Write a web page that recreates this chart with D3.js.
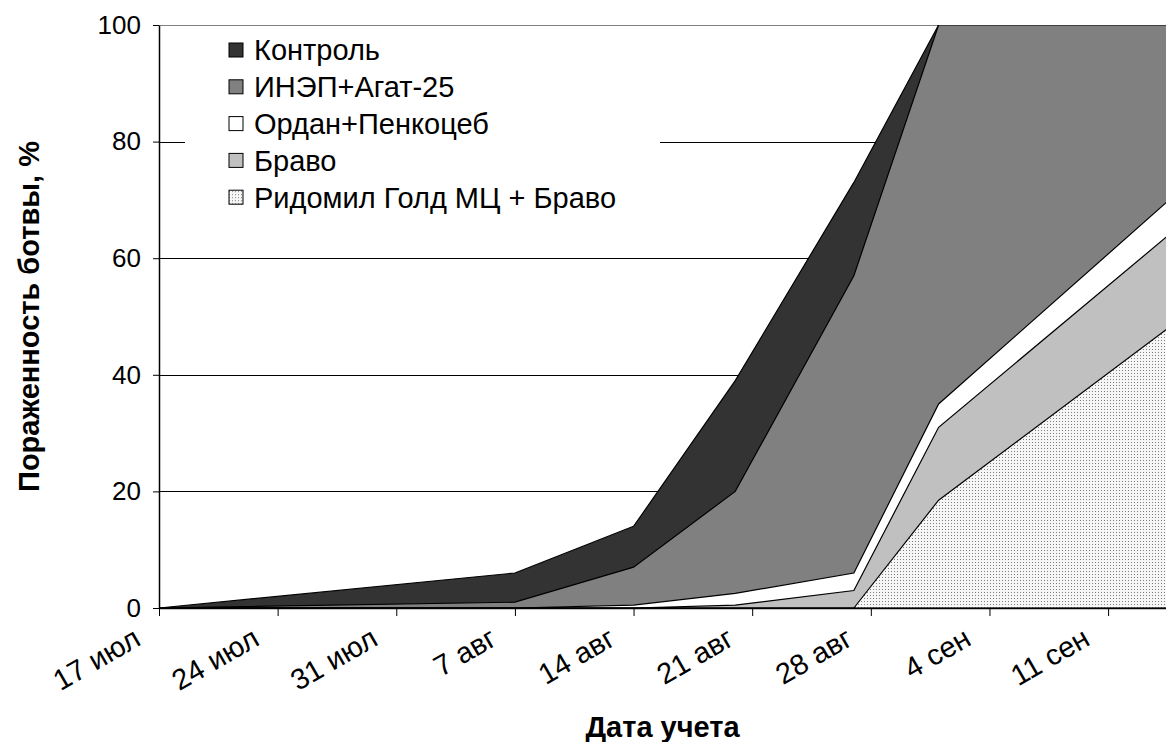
<!DOCTYPE html>
<html>
<head>
<meta charset="utf-8">
<script src="https://cdn.jsdelivr.net/npm/d3@7"></script>
<style>
  body { margin: 0; background: #fff; }
  svg { display: block; font-family: "Liberation Sans", Arial, sans-serif; }
</style>
</head>
<body>
<svg id="chart"></svg>
<script>
// dates of the observations (year is arbitrary, only day/month matter)
const dates = ["2008-07-17", "2008-08-07", "2008-08-14", "2008-08-20", "2008-08-27", "2008-09-01", "2008-09-15"];

const kontrol = [0, 6, 14, 39, 73, 100, 100];
const inep    = [0, 1, 7, 20, 57, 100, 100];
const ordan   = [0, 0, 0.5, 2.5, 6, 35, 71];
const bravo   = [0, 0, 0, 0.5, 3, 31, 65];
const ridomil = [0, 0, 0, 0, 0, 18.5, 49];

const seriesNames = ["Контроль", "ИНЭП+Агат-25", "Ордан+Пенкоцеб", "Браво", "Ридомил Голд МЦ + Браво"];
const yTicks = [0, 20, 40, 60, 80, 100];
const monthNames = ["янв", "фев", "мар", "апр", "май", "июн", "июл", "авг", "сен", "окт", "ноя", "дек"];

const width = 1166, height = 742;
const margin = { top: 25, right: 0, bottom: 134, left: 159 };
const innerW = width - margin.left - margin.right;
const innerH = height - margin.top - margin.bottom;

const parse = d3.timeParse("%Y-%m-%d");
const xDates = dates.map(parse);

// axis ends a little before the last observation, the areas are clipped there
const xStart = xDates[0];
const xEnd = new Date(2008, 8, 14, 10);

const x = d3.scaleTime().domain([xStart, xEnd]).range([0, innerW]);
const y = d3.scaleLinear().domain([0, 100]).range([innerH, 0]);

const svg = d3.select("#chart").attr("width", width).attr("height", height);
svg.append("rect").attr("width", width).attr("height", height).attr("fill", "#fff");

const defs = svg.append("defs");
defs.append("clipPath").attr("id", "plotclip")
  .append("rect").attr("width", innerW).attr("height", innerH + 1);

const pat = defs.append("pattern")
  .attr("id", "dots")
  .attr("patternUnits", "userSpaceOnUse")
  .attr("width", 3).attr("height", 3);
pat.append("rect").attr("width", 3).attr("height", 3).attr("fill", "#f6f6f6");
pat.append("rect").attr("width", 1).attr("height", 1).attr("fill", "#808080");

const g = svg.append("g").attr("transform", `translate(${margin.left},${margin.top})`);

// gridlines
g.append("g")
  .selectAll("line")
  .data(yTicks.filter(d => d > 0))
  .join("line")
  .attr("x1", 0).attr("x2", innerW)
  .attr("y1", d => Math.round(y(d)) + 0.5).attr("y2", d => Math.round(y(d)) + 0.5)
  .attr("stroke", d => d === 100 ? "#808080" : "#000")
  .attr("stroke-width", 1);

const series = [
  { name: seriesNames[0], values: kontrol, fill: "#333333" },
  { name: seriesNames[1], values: inep, fill: "#808080" },
  { name: seriesNames[2], values: ordan, fill: "#ffffff" },
  { name: seriesNames[3], values: bravo, fill: "#c0c0c0" },
  { name: seriesNames[4], values: ridomil, fill: "url(#dots)" }
];

const area = d3.area()
  .x((d, i) => x(xDates[i]))
  .y0(y(0))
  .y1(d => y(d));

g.append("g")
  .attr("clip-path", "url(#plotclip)")
  .selectAll("path")
  .data(series)
  .join("path")
  .attr("d", d => area(d.values))
  .attr("fill", d => d.fill)
  .attr("stroke", "#000")
  .attr("stroke-width", 1.2)
  .attr("stroke-linejoin", "miter");

// legend
const legend = g.append("g").attr("transform", "translate(26,7)");
legend.append("rect")
  .attr("width", 475).attr("height", 180)
  .attr("fill", "#fff");
const item = legend.selectAll("g.item")
  .data(series)
  .join("g")
  .attr("class", "item")
  .attr("transform", (d, i) => `translate(44,${18 + i * 36.8})`);
item.append("rect")
  .attr("x", 0).attr("y", -7)
  .attr("width", 14).attr("height", 14)
  .attr("fill", d => d.fill)
  .attr("stroke", "#000").attr("stroke-width", 1);
item.append("text")
  .attr("x", 25).attr("y", 0)
  .attr("dy", "0.36em")
  .style("font-size", "29px")
  .text(d => d.name);

// y axis
const yAxis = g.append("g")
  .call(d3.axisLeft(y).tickValues(yTicks).tickSize(6).tickPadding(12).tickSizeOuter(0));
yAxis.select(".domain").attr("stroke", "#000").attr("stroke-width", 1.5);
yAxis.selectAll("text").style("font-size", "26px").attr("fill", "#000");

// x axis: weekly ticks from the first date
const xTicks = d3.range(0, 9).map(k => d3.timeDay.offset(xStart, k * 7));
const xAxis = g.append("g")
  .attr("transform", `translate(0,${innerH})`)
  .call(d3.axisBottom(x).tickValues(xTicks).tickSize(8).tickSizeOuter(0)
    .tickFormat(d => d.getDate() + " " + monthNames[d.getMonth()]));
xAxis.select(".domain").attr("stroke", "#000").attr("stroke-width", 1.5);
xAxis.selectAll("text")
  .style("font-size", "29px")
  .attr("fill", "#000")
  .attr("text-anchor", "end")
  .attr("dy", null)
  .attr("y", null)
  .attr("transform", "translate(-17,36) rotate(-30)");

// axis titles
svg.append("text")
  .attr("x", margin.left + innerW / 2)
  .attr("y", 737)
  .attr("text-anchor", "middle")
  .style("font-size", "29px")
  .style("font-weight", "bold")
  .text("Дата учета");

svg.append("text")
  .attr("transform", `translate(39,${margin.top + innerH / 2}) rotate(-90)`)
  .attr("text-anchor", "middle")
  .style("font-size", "29px")
  .style("font-weight", "bold")
  .text("Пораженность ботвы, %");
</script>
</body>
</html>
